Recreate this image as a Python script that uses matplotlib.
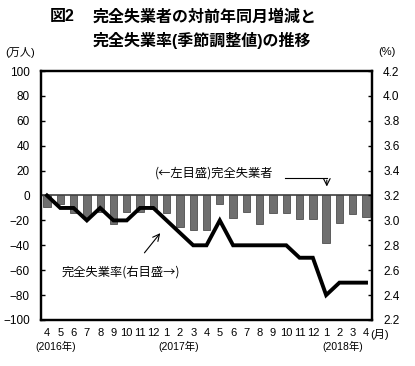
import matplotlib
matplotlib.use("Agg")
import matplotlib.pyplot as plt
import matplotlib.transforms as mtransforms

plt.rcParams['font.family'] = ['Liberation Sans', 'Noto Sans CJK JP']
cjk = ['Noto Sans CJK JP', 'Liberation Sans']

# Apr 2016 .. Apr 2018
months = ['4', '5', '6', '7', '8', '9', '10', '11', '12',
          '1', '2', '3', '4', '5', '6', '7', '8', '9', '10', '11', '12',
          '1', '2', '3', '4']
# year-on-year change of unemployed persons (10k persons, left axis)
unemployed_change = [-9, -7, -14, -17, -13, -23, -13, -13, -11,
                     -14, -25, -28, -28, -7, -18, -13, -23, -14, -14, -19, -19,
                     -38, -22, -15, -17]
# unemployment rate, seasonally adjusted (%, right axis)
unemp_rate = [3.2, 3.1, 3.1, 3.0, 3.1, 3.0, 3.0, 3.1, 3.1,
              3.0, 2.9, 2.8, 2.8, 3.0, 2.8, 2.8, 2.8, 2.8, 2.8, 2.7, 2.7,
              2.4, 2.5, 2.5, 2.5]
left_ticks = list(range(-100, 101, 20))
right_ticks = [2.2, 2.4, 2.6, 2.8, 3.0, 3.2, 3.4, 3.6, 3.8, 4.0, 4.2]

x = list(range(len(months)))

fig = plt.figure(figsize=(4.15, 3.66), dpi=100)
ax = fig.add_axes([0.0988, 0.1257, 0.7976, 0.6803])
ax2 = ax.twinx()

ax.bar(x, unemployed_change, width=0.55, color='#6f6f6f', edgecolor='#3a3a3a', linewidth=0.5, zorder=2)
ax.axhline(0, color='#404040', lw=1.2, zorder=3)
ax.set_xlim(-0.45, 24.45)
ax.set_ylim(-100, 100)
ax.set_yticks(left_ticks)
ax.set_yticklabels([str(v).replace('-', '−') for v in left_ticks], fontsize=8.5)
ax.set_xticks(x)
ax.set_xticklabels(months, fontsize=8)
ax.tick_params(axis='x', length=0, pad=6)
ax.tick_params(axis='y', direction='in', length=3, width=1, pad=8)

ax2.plot(x, unemp_rate, color='black', lw=2.8, zorder=4, solid_joinstyle='miter')
ax2.set_ylim(2.2, 4.2)
ax2.set_yticks(right_ticks)
ax2.set_yticklabels(['%.1f' % v for v in right_ticks], fontsize=8.5)
ax2.tick_params(axis='y', direction='in', length=3, width=1, pad=8)

for a in (ax, ax2):
    for s in a.spines.values():
        s.set_linewidth(1.6)

# year labels
trans = mtransforms.blended_transform_factory(ax.transData, ax.transAxes)
for xi, lab in [(-0.9, '(2016年)'), (8.35, '(2017年)'), (20.7, '(2018年)')]:
    ax.text(xi, -0.105, lab, transform=trans, fontsize=7.5, ha='left', va='center')
ax.text(24.3, -0.057, '(月)', transform=trans, fontsize=8, ha='left', va='center')

# annotations
ax.text(17.0, 18, '(←左目盛)完全失業者', fontsize=8.8, family=cjk, ha='right', va='center')
ax.plot([17.9, 21.05], [14.3, 14.3], color='black', lw=0.8)
ax.annotate('', xy=(21.05, 5), xytext=(21.05, 14.6),
            arrowprops=dict(arrowstyle='->', color='black', lw=0.8, mutation_scale=12))
ax.text(1.1, -61.5, '完全失業率(右目盛→)', fontsize=8.8, family=cjk, ha='left', va='center')
ax.annotate('', xy=(8.65, -28.5), xytext=(7.2, -47.8),
            arrowprops=dict(arrowstyle='->', color='black', lw=0.8, mutation_scale=12))

# axis units
fig.text(5 / 415, 1 - 52 / 366, '(万人)', fontsize=8, ha='left', va='center')
fig.text(378 / 415, 1 - 52 / 366, '(%)', fontsize=8, ha='left', va='center')

# title
fig.text(50 / 415, 1 - 17 / 366, '図2', fontsize=11.5, fontweight='bold', ha='left', va='center')
fig.text(93 / 415, 1 - 17 / 366, '完全失業者の対前年同月増減と', fontsize=11.5, fontweight='bold', ha='left', va='center')
fig.text(93 / 415, 1 - 40 / 366, '完全失業率(季節調整値)の推移', fontsize=11.5, fontweight='bold', ha='left', va='center')

fig.savefig('out.png', dpi=100)
